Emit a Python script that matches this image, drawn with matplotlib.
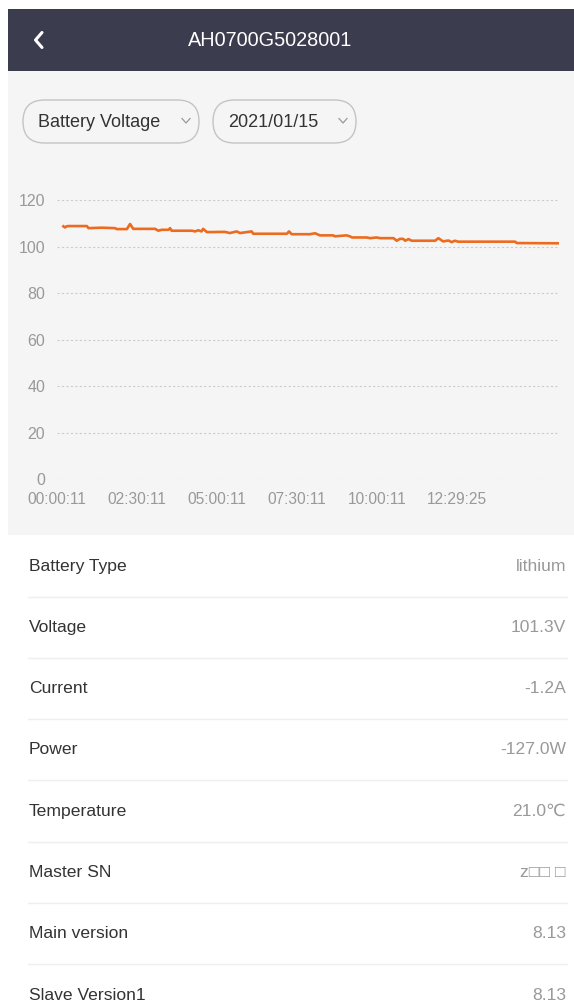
import matplotlib
matplotlib.use("Agg")
import matplotlib.pyplot as plt
from matplotlib.patches import Rectangle, FancyBboxPatch

plt.rcParams['font.family'] = ['Liberation Sans', 'DejaVu Sans']

# datos de la serie (minutos desde 00:00, voltaje)
minutos = [12, 15, 18, 21, 56, 59, 84, 109, 112, 131, 137, 143, 184, 190, 196, 209,
           212, 215, 253, 259, 265, 271, 274, 281, 315, 324, 337, 343, 365, 368,
           431, 435, 440, 474, 484, 493, 518, 521, 543, 549, 553, 581, 587, 599,
           606, 615, 631, 637, 643, 649, 653, 659, 665, 709, 715, 724, 734, 740,
           746, 752, 859, 862, 940]
voltaje = [108.7, 108.2, 108.7, 108.8, 108.8, 107.9, 108.1, 107.9, 107.5, 107.5,
           109.7, 107.6, 107.6, 106.8, 107.2, 107.2, 107.9, 106.8, 106.8, 106.5,
           107.0, 106.5, 107.6, 106.2, 106.3, 105.8, 106.5, 105.8, 106.5, 105.5,
           105.5, 106.5, 105.3, 105.3, 105.7, 104.8, 104.8, 104.4, 104.8, 104.4,
           103.9, 103.9, 103.6, 103.9, 103.6, 103.6, 103.6, 102.5, 103.3, 103.3,
           102.5, 103.2, 102.5, 102.5, 103.6, 102.2, 102.6, 101.9, 102.5, 102.1,
           102.1, 101.5, 101.4]
ticks_x = [0, 150, 300, 450, 600, 750]
etiquetas_x = ["00:00:11", "02:30:11", "05:00:11", "07:30:11", "10:00:11", "12:29:25"]
ticks_y = [0, 20, 40, 60, 80, 100, 120]

titulo = "AH0700G5028001"
filtros = ["Battery Voltage", "2021/01/15"]
campos = ["Battery Type", "Voltage", "Current", "Power", "Temperature",
          "Master SN", "Main version", "Slave Version1"]
valores = ["lithium", "101.3V", "-1.2A", "-127.0W", "21.0\u2103",
           "z\u25a1\u25a1 \u25a1", "8.13", "8.13"]

W, H = 574, 1005
fig = plt.figure(figsize=(W / 100, H / 100), dpi=100)
fig.patch.set_facecolor("white")

# capa de interfaz en pixeles
ui = fig.add_axes([0, 0, 1, 1])
ui.set_xlim(0, W)
ui.set_ylim(H, 0)
ui.axis("off")

ui.add_patch(Rectangle((8, 9), W - 8, 62, color="#3b3c4d", lw=0))
ui.plot([42, 35.5, 42], [32.5, 40, 47.5], color="white", lw=2.2, solid_capstyle="round")
ui.text(270, 40, titulo, color="white", fontsize=14.3, ha="center", va="center")

ui.add_patch(Rectangle((8, 71), W - 8, 464, color="#f5f5f5", lw=0))

# filtros
pills = [(23, 199), (213, 356)]
for (x0, x1), txt in zip(pills, filtros):
    ui.add_patch(FancyBboxPatch((x0, 100), x1 - x0, 43,
                                boxstyle="round,pad=0,rounding_size=21.5",
                                fc="#f5f5f5", ec="#c4c4c4", lw=1.0))
    ui.text(x0 + 15, 122, txt, color="#333333", fontsize=13, ha="left", va="center")
    ui.plot([x1 - 17, x1 - 13, x1 - 9], [118.5, 123, 118.5], color="#999999", lw=0.9)

# lista de campos
paso = 61.3
for i, (c, v) in enumerate(zip(campos, valores)):
    yc = 566 + i * paso
    ui.text(29, yc, c, color="#333333", fontsize=12.6, ha="left", va="center")
    ui.text(566, yc, v, color="#999999", fontsize=12.6, ha="right", va="center")
    if i < len(campos) - 1:
        ui.plot([28, 567], [yc + 30.5, yc + 30.5], color="#efefef", lw=1.0)

# grafica
x_izq, x_der, y_sup, y_inf = 57, 559, 200, 479.3
ax = fig.add_axes([x_izq / W, 1 - y_inf / H, (x_der - x_izq) / W, (y_inf - y_sup) / H])
ax.patch.set_alpha(0)
ax.plot(minutos, voltaje, color="#ec6b1f", lw=1.9)
ax.set_xlim(0, (x_der - x_izq) * 1.875)
ax.set_ylim(0, 120)
ax.set_yticks(ticks_y)
ax.set_xticks(ticks_x)
ax.set_xticklabels(etiquetas_x)
ax.grid(axis="y", color="#cccccc", ls=(0, (2, 2)), lw=0.8)
for s in ax.spines.values():
    s.set_visible(False)
ax.tick_params(axis="y", length=0, pad=8.6, labelsize=11.5, labelcolor="#999999")
ax.tick_params(axis="x", length=0, pad=9, labelsize=11.2, labelcolor="#999999")

fig.savefig("out.png", dpi=100)
